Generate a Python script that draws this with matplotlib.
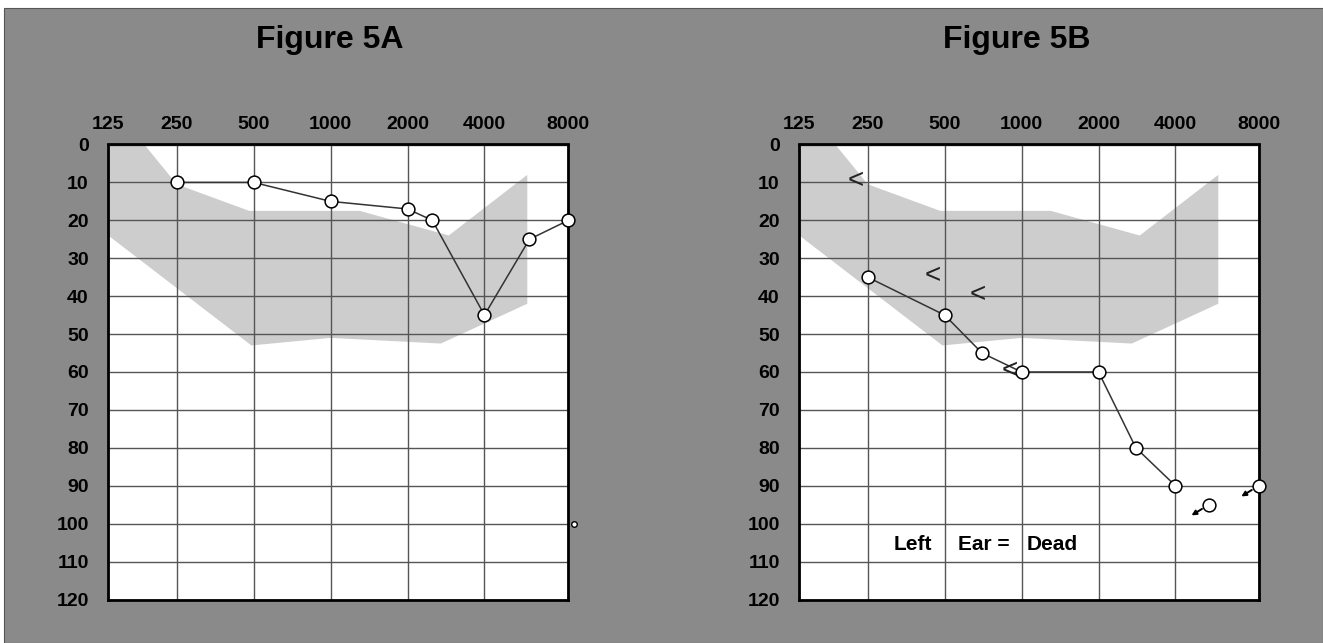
"""
Two audiograms (Figure 5A / 5B) on a grey page, as printed in the article.

Writes out.png (1323 x 643 px).
"""

import numpy as np
import matplotlib
matplotlib.use("Agg")
import matplotlib.pyplot as plt
from matplotlib.patches import Rectangle
from matplotlib.transforms import offset_copy

W, H = 1323, 643
FONT = "Liberation Sans"

# Frequency axis.  The printed grid is not perfectly even: the first and last
# columns are narrower / wider than one octave, so each label gets its column.
AXIS_FREQS = [125, 250, 500, 1000, 2000, 4000, 8000]
AXIS_COLS = [0.0, 0.89, 1.89, 2.89, 3.89, 4.89, 5.98]
DB_TICKS = list(range(0, 121, 10))

# shaded "normal" region (same template on both panels)
BAND_UPPER_F = [125, 180, 250, 480, 1300, 2900, 5700]
BAND_UPPER_DB = [0, 0, 10.5, 17.5, 17.5, 24, 8]
BAND_LOWER_F = [5700, 2700, 1000, 490, 125]
BAND_LOWER_DB = [42, 52.5, 51, 53, 24]

# Figure 5A - air conduction
A_FREQS = [250, 500, 1000, 2000, 2500, 4000, 5800, 8000]
A_DB = [10, 10, 15, 17, 20, 45, 25, 20]
A_STRAY_F = [8400]
A_STRAY_DB = [100]

# Figure 5B - air conduction, no-response points, bone conduction
B_FREQS = [250, 500, 700, 1000, 2000, 2800, 4000]
B_DB = [35, 45, 55, 60, 60, 80, 90]
B_NR_FREQS = [5300, 8000]
B_NR_DB = [95, 90]
B_BONE_FREQS = [250, 500, 750, 1000]
B_BONE_DB = [10, 35, 40, 60]

LOG_ANCHORS = np.log2(AXIS_FREQS)
COLS = np.array(AXIS_COLS)


def _fwd(f):
    lf = np.log2(np.maximum(np.asarray(f, dtype=float), 1e-6))
    out = np.interp(lf, LOG_ANCHORS, COLS)
    out = np.where(lf < LOG_ANCHORS[0], COLS[0] + (lf - LOG_ANCHORS[0]), out)
    out = np.where(lf > LOG_ANCHORS[-1], COLS[-1] + (lf - LOG_ANCHORS[-1]), out)
    return out


def _inv(c):
    c = np.asarray(c, dtype=float)
    lf = np.interp(c, COLS, LOG_ANCHORS)
    lf = np.where(c < COLS[0], LOG_ANCHORS[0] + (c - COLS[0]), lf)
    lf = np.where(c > COLS[-1], LOG_ANCHORS[-1] + (c - COLS[-1]), lf)
    return 2.0 ** lf


def _audiogram(fig, rect, title, title_x):
    ax = fig.add_axes(rect)
    ax.set_facecolor("white")
    ax.set_xscale("function", functions=(_fwd, _inv))
    ax.set_xlim(AXIS_FREQS[0], AXIS_FREQS[-1])
    ax.set_ylim(120, 0)

    ax.fill(BAND_UPPER_F + BAND_LOWER_F, BAND_UPPER_DB + BAND_LOWER_DB,
            color="#cdcdcd", lw=0, zorder=1)

    ax.set_xticks(AXIS_FREQS)
    ax.set_xticklabels([str(f) for f in AXIS_FREQS])
    ax.minorticks_off()
    ax.set_yticks(DB_TICKS)
    ax.set_yticklabels([str(d) for d in DB_TICKS])
    ax.xaxis.tick_top()
    ax.tick_params(axis="x", length=0, pad=8)
    ax.tick_params(axis="y", length=0, pad=14)
    for lab in ax.get_xticklabels() + ax.get_yticklabels():
        lab.set_fontfamily(FONT)
        lab.set_fontweight("bold")
        lab.set_fontsize(14)
    ax.grid(True, color="#555555", lw=1.0)
    for sp in ax.spines.values():
        sp.set_linewidth(2.0)
        sp.set_color("black")

    fig.text(title_x / W, 1 - 40 / H, title, ha="center", va="center",
             fontsize=23, fontweight="bold", family=FONT)
    return ax


def _ac_line(ax, freqs, dbs):
    ax.plot(freqs, dbs, color="#333333", lw=1.1, zorder=3, clip_on=False)
    ax.plot(freqs, dbs, ls="none", marker="o", ms=9.2, mfc="white",
            mec="black", mew=1.1, zorder=5, clip_on=False)


def main():
    fig = plt.figure(figsize=(W / 100, H / 100), dpi=100)
    fig.patch.set_facecolor("white")
    fig.add_artist(Rectangle((4 / W, 0), 1 - 4 / W, 1 - 8 / H,
                             transform=fig.transFigure, facecolor="#8a8a8a",
                             edgecolor="#555555", lw=0.8, zorder=-10))

    top, bottom = 144.5, 599.5
    rect_a = [108.3 / W, 1 - bottom / H, 460 / W, (bottom - top) / H]
    rect_b = [799.3 / W, 1 - bottom / H, 460 / W, (bottom - top) / H]

    # ---- Figure 5A
    ax = _audiogram(fig, rect_a, "Figure 5A", 330)
    _ac_line(ax, A_FREQS, A_DB)
    ax.plot(A_STRAY_F, A_STRAY_DB, ls="none", marker="o", ms=4, mfc="white",
            mec="black", mew=1.0, zorder=5, clip_on=False)

    # ---- Figure 5B
    ax = _audiogram(fig, rect_b, "Figure 5B", 1017)
    _ac_line(ax, B_FREQS, B_DB)
    ax.plot(B_NR_FREQS, B_NR_DB, ls="none", marker="o", ms=9.2, mfc="white",
            mec="black", mew=1.1, zorder=5, clip_on=False)
    for f, db in zip(B_NR_FREQS, B_NR_DB):
        tail = offset_copy(ax.transData, fig=fig, x=-7.5, y=-4.2, units="dots")
        head = offset_copy(ax.transData, fig=fig, x=-18, y=-10.7, units="dots")
        ax.annotate("", xy=(f, db), xycoords=head, xytext=(f, db),
                    textcoords=tail, annotation_clip=False,
                    arrowprops=dict(arrowstyle="-|>", color="black", lw=1.4,
                                    mutation_scale=7, shrinkA=0, shrinkB=0))
    bone_tr = offset_copy(ax.transData, fig=fig, x=-12, y=1, units="dots")
    for f, db in zip(B_BONE_FREQS, B_BONE_DB):
        ax.text(f, db, "<", transform=bone_tr, ha="center", va="center",
                fontsize=20, family=FONT, color="#222222", zorder=4)

    lab_tr = ax.get_yaxis_transform()
    for xf, s in [(0.247, "Left"), (0.402, "Ear ="), (0.55, "Dead")]:
        ax.text(xf, 105.5, s, transform=lab_tr, ha="center", va="center",
                fontsize=15, fontweight="bold", family=FONT)

    fig.savefig("out.png", dpi=100, facecolor=fig.get_facecolor())
    plt.close(fig)


if __name__ == "__main__":
    main()
